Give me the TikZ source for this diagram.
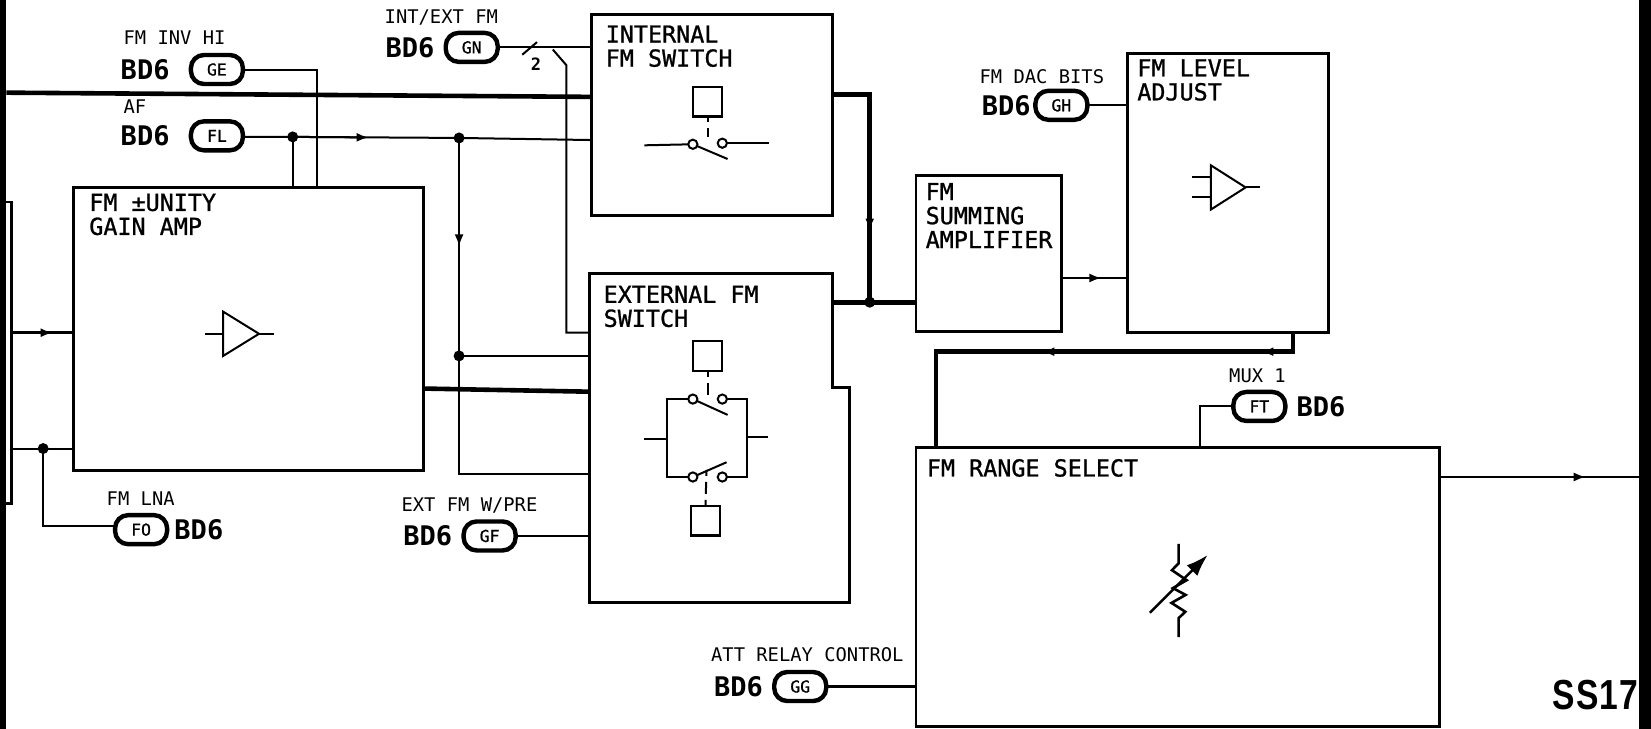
\documentclass[tikz,border=0pt]{standalone}
\usepackage{fontspec}
\usepackage{tikz}
\usetikzlibrary{arrows.meta, positioning, fit, calc}
\setmonofont{DejaVu Sans Mono}
\newfontfamily\platefont[FakeBold=1]{DejaVu Sans Mono}
\newfontfamily\ssfont[FakeStretch=0.8, LetterSpace=3]{Liberation Sans Bold}

\begin{document}
\begin{tikzpicture}[
    x=0.5265pt, y=-0.5265pt,
    blockbox/.style={draw, line width=1.4pt, fit={#1}, inner sep=0pt, outer sep=0pt},
    blocktitle/.style={inner sep=0pt, align=left, anchor=north west, font=\fontsize{11.7}{12}\selectfont\platefont},
    padbox/.style={draw, line width=2.2pt, rounded corners=6.5pt, minimum width=26pt, minimum height=14.5pt, inner sep=0pt, outer sep=0pt, font=\fontsize{8.2}{9}\selectfont\platefont},
    bdlabel/.style={inner sep=0pt, font=\fontsize{13.5}{14}\selectfont\ttfamily\bfseries},
    signame/.style={inner sep=0pt, font=\fontsize{9.4}{10}\selectfont\ttfamily},
    relaybox/.style={draw, line width=1.1pt, minimum size=14.8pt, inner sep=0pt, outer sep=0pt},
    contact/.style={draw, line width=1pt, fill=white, circle, minimum size=4.6pt, inner sep=0pt, outer sep=0pt},
    junction/.style={fill=black, circle, minimum size=5.5pt, inner sep=0pt, outer sep=0pt},
    wire/.style={line width=1pt},
    bus/.style={line width=2.3pt},
    sym/.style={line width=1pt},
    flowtip/.style={-{Latex[length=6pt,width=4.5pt]}}
]

\useasboundingbox (0,0) rectangle (1568,692.3);

\fill (0,0) rectangle (6,692.3);
\fill (1557,0) rectangle (1568,692.3);

\node[blockbox={(70,178) (402,447)}] (unity) {};
\node[blockbox={(562,14) (791,205)}] (swint) {};
\node[blockbox={(870,167) (1008,315)}] (summer) {};
\node[blockbox={(1071,51) (1262,316)}] (level) {};
\node[blockbox={(870,425) (1367,690)}] (range) {};

\coordinate (extnw) at (560,260);
\coordinate (extne) at (791,260);
\coordinate (extstepa) at (791,368);
\coordinate (extstepb) at (807,368);
\coordinate (extse) at (807,572);
\coordinate (extsw) at (560,572);
\draw[line width=1.4pt] (extnw) -- (extne) -- (extstepa) -- (extstepb) -- (extse) -- (extsw) -- cycle;

\node[blocktitle, below right=3pt and 7.6pt of unity.north west] (tunity) {FM ±UNITY\\GAIN AMP};
\node[blocktitle, below right=5.2pt and 6.8pt of swint.north west] (tswint) {INTERNAL\\FM SWITCH};
\node[blocktitle, below right=5.8pt and 6.8pt of extnw] (tswext) {EXTERNAL FM\\SWITCH};
\node[blocktitle, below right=3.4pt and 4.6pt of summer.north west] (tsummer) {FM\\SUMMING\\AMPLIFIER};
\node[blocktitle, below right=2.6pt and 4.6pt of level.north west] (tlevel) {FM LEVEL\\ADJUST};
\node[blocktitle, below right=5.6pt and 5.2pt of range.north west] (trange) {FM RANGE SELECT};

\node[padbox] (padGE) at (206,66) {GE};
\node[padbox] (padFL) at (206,129) {FL};
\node[padbox] (padGN) at (448,45) {GN};
\node[padbox] (padFO) at (134,503) {FO};
\node[padbox] (padGF) at (465,509) {GF};
\node[padbox] (padGH) at (1008,100) {GH};
\node[padbox] (padFT) at (1196,386) {FT};
\node[padbox] (padGG) at (760,652) {GG};

\node[bdlabel, left=10.5pt of padGE] (bdGE) {BD6};
\node[bdlabel, left=10.5pt of padFL] (bdFL) {BD6};
\node[bdlabel, left=5.5pt of padGN] (bdGN) {BD6};
\node[bdlabel, right=3.5pt of padFO] (bdFO) {BD6};
\node[bdlabel, left=5.5pt of padGF] (bdGF) {BD6};
\node[bdlabel, left=2.2pt of padGH] (bdGH) {BD6};
\node[bdlabel, right=5.5pt of padFT] (bdFT) {BD6};
\node[bdlabel, left=5.5pt of padGG] (bdGG) {BD6};

\node[signame, anchor=south west] (nameGE) at (117,43) {FM INV HI};
\node[signame, anchor=south west] (nameFL) at (117,108) {AF};
\node[signame, anchor=south west] (nameGN) at (365,24) {INT/EXT FM};
\node[signame, anchor=south west] (nameFO) at (101,480) {FM LNA};
\node[signame, anchor=south west] (nameGF) at (381,488) {EXT FM W/PRE};
\node[signame, anchor=south west] (nameGH) at (930,80) {FM DAC BITS};
\node[signame, anchor=south west] (nameFT) at (1167,364) {MUX 1};
\node[signame, anchor=south west] (nameGG) at (675,629) {ATT RELAY CONTROL};

\coordinate (tapGE) at (301,66);
\coordinate (juncAFa) at (278,130);
\coordinate (juncAFb) at (436,131);
\coordinate (flowAF) at (350,130.5);
\coordinate (flowAFv) at (436,234);
\coordinate (juncPre) at (436,338);
\coordinate (afEnd) at (562,133);
\coordinate (ampOut) at (402,369);
\coordinate (ampIn) at (560,372);
\coordinate (extAF) at (436,450);
\coordinate (busAbreak) at (525,47);
\coordinate (busAdown) at (538,62);
\coordinate (busAfoot) at (538,316);
\coordinate (busMain) at (6,88);
\coordinate (busEnd) at (562,92);
\coordinate (sumTop) at (826,90);
\coordinate (juncSum) at (826,287);
\coordinate (flowSum) at (826,219);
\coordinate (flowLevel) at (1046,264);
\coordinate (muxCorner) at (1140,386);
\coordinate (rangeRiseA) at (1228,334);
\coordinate (rangeRiseB) at (889,334);
\coordinate (flowRangeA) at (1198,334);
\coordinate (flowRangeB) at (990,334);
\coordinate (flowOut) at (1506,453);
\coordinate (outEnd) at (1557,453);
\coordinate (flowIn) at (50,316);
\coordinate (bracketNW) at (6,192);
\coordinate (bracketN) at (11,192);
\coordinate (bracketS) at (11,478);
\coordinate (bracketSW) at (6,478);
\coordinate (juncLNA) at (41,426);
\coordinate (footLNA) at (41,500);
\coordinate (slashA) at (496,52);
\coordinate (slashB) at (510,40);

\draw[line width=1.3pt] (bracketNW) -- (bracketN) -- (bracketS) -- (bracketSW);
\draw[line width=1.6pt] (bracketN |- flowIn) -- (flowIn -| unity.west);
\draw[line width=1.6pt, flowtip] (bracketN |- flowIn) -- (flowIn);
\draw[wire] (bracketN |- juncLNA) -- (juncLNA -| unity.west);
\draw[wire] (juncLNA) -- (footLNA) -- (footLNA -| padFO.west);
\node[junction] (dotLNA) at (juncLNA) {};

\draw[bus] (busMain) -- (busEnd);
\draw[wire] (padGE.east) -- (tapGE) -- (tapGE |- unity.north);
\draw[wire] (padFL.east |- juncAFa) -- (juncAFa) -- (juncAFb) -- (afEnd);
\draw[wire, flowtip] (juncAFa) -- (flowAF);
\draw[wire] (juncAFa) -- (juncAFa |- unity.north);
\draw[wire] (juncAFb) -- (extAF) -- (extAF -| extnw);
\draw[wire, flowtip] (juncAFb) -- (flowAFv);
\draw[wire] (juncPre) -- (juncPre -| extnw);
\draw[bus] (ampOut) -- (ampIn);
\node[junction] (dotAFa) at (juncAFa) {};
\node[junction] (dotAFb) at (juncAFb) {};
\node[junction] (dotPre) at (juncPre) {};

\draw[wire] (padGN.east) -- (padGN.east -| swint.west);
\draw[wire] (slashA) -- (slashB);
\node[signame, font=\fontsize{8.5}{9}\selectfont\ttfamily\bfseries] (busTwo) at (509,61) {2};
\draw[wire] (busAbreak) -- (busAdown) -- (busAfoot) -- (busAfoot -| extnw);

\draw[wire] (padGF.east) -- (padGF.east -| extnw);
\draw[line width=1.4pt] (padGG.east) -- (padGG.east -| range.west);
\draw[wire] (padGH.east) -- (padGH.east -| level.west);
\draw[wire] (padFT.west) -- (muxCorner) -- (muxCorner |- range.north);

\draw[bus] (sumTop -| swint.east) -- (sumTop) -- (juncSum);
\draw[bus] (juncSum -| extne) -- (juncSum -| summer.west);
\node[junction] (dotSum) at (juncSum) {};
\draw[bus, flowtip] (sumTop) -- (flowSum);

\draw[wire] (flowLevel -| summer.east) -- (flowLevel -| level.west);
\draw[wire, flowtip] (flowLevel -| summer.east) -- (flowLevel);

\draw[bus] (rangeRiseA |- level.south) -- (rangeRiseA) -- (rangeRiseB) -- (rangeRiseB |- range.north);
\draw[bus, flowtip] (rangeRiseA) -- (flowRangeA);
\draw[bus, flowtip] (flowRangeA) -- (flowRangeB);

\draw[wire] (flowOut -| range.east) -- (outEnd);
\draw[wire, flowtip] (flowOut -| range.east) -- (flowOut);

\draw[sym] (212,296) -- (212,338) -- (246,317) -- cycle;
\draw[sym] (195,317) -- (212,317);
\draw[sym] (246,317) -- (260,317);

\draw[sym] (1150,157) -- (1150,199) -- (1183,178) -- cycle;
\draw[sym] (1132,168) -- (1150,168);
\draw[sym] (1132,187) -- (1150,187);
\draw[sym] (1183,178) -- (1197,178);

\node[relaybox] (relayInt) at (672,96.5) {};
\node[contact] (intA) at (658,137) {};
\node[contact] (intB) at (686,136) {};
\draw[sym] (612,138) -- (intA);
\draw[sym] (intB) -- (730,136);
\draw[sym] (intA) -- (691,151);
\draw[sym, dash pattern=on 3pt off 3pt on 6pt off 3pt] (relayInt.south) -- (672,130);

\node[relaybox] (relayUp) at (672,338) {};
\node[contact] (upA) at (658,379) {};
\node[contact] (upB) at (686,379) {};
\node[contact] (lowA) at (658,453) {};
\node[contact] (lowB) at (686,453) {};
\node[relaybox] (relayLow) at (670,494.5) {};
\draw[sym] (upA) -- (633,379) -- (633,453) -- (lowA);
\draw[sym] (upB) -- (709,379) -- (709,453) -- (lowB);
\draw[sym] (612,417) -- (633,417);
\draw[sym] (709,415) -- (729,415);
\draw[sym] (upA) -- (691,394);
\draw[sym] (lowA) -- (690,439);
\draw[sym, dash pattern=on 3pt off 3pt on 6pt off 3pt] (relayUp.south) -- (672,380);
\draw[sym, dash pattern=on 3pt off 3pt on 6pt off 3pt] (relayLow.north) -- (671,446);

\draw[line width=1.3pt] (1119.4,516.6) -- (1119.4,535) -- (1113,541.5) -- (1127,551) -- (1114,558.5) -- (1126,565) -- (1112.6,572.6) -- (1125.7,581) -- (1119.4,587) -- (1119.4,605);
\draw[line width=1.3pt, -{Latex[length=11pt,width=7.5pt]}] (1092,582) -- (1147,527);

\node[inner sep=0pt, anchor=west, font=\fontsize{21}{22}\selectfont\ssfont] (sheet) at (1474,660) {SS17};

\end{tikzpicture}
\end{document}
